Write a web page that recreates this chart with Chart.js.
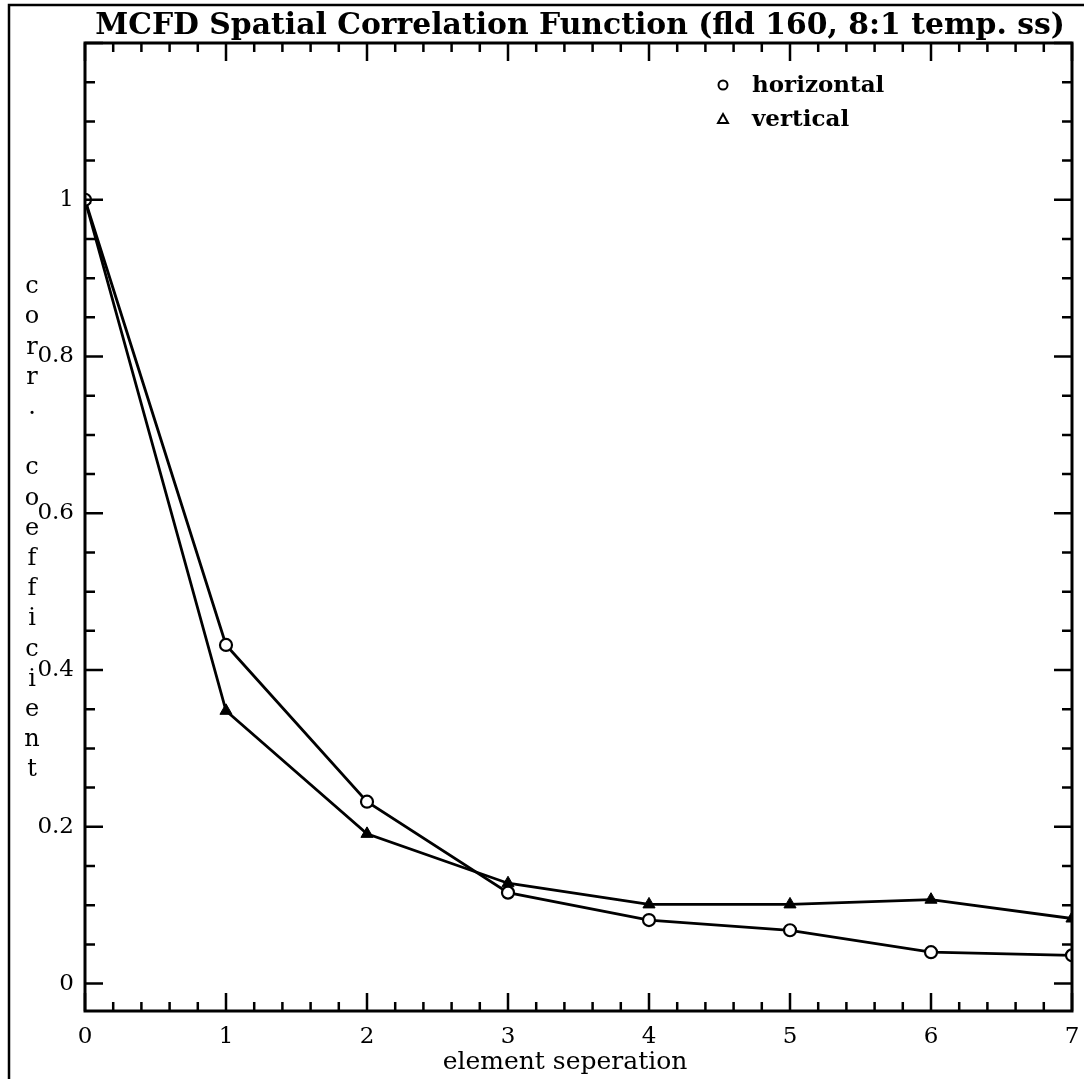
<!DOCTYPE html>
<html>
<head>
<meta charset="utf-8">
<title>MCFD Spatial Correlation Function</title>
<script src="https://cdn.jsdelivr.net/npm/chart.js@4.4.0/dist/chart.umd.min.js"></script>
<style>
  html, body { margin: 0; padding: 0; background: #fff; }
  #chart { display: block; }
</style>
</head>
<body>
<canvas id="chart" width="1084" height="1079"></canvas>
<script>
  // Data
  const separations = [0, 1, 2, 3, 4, 5, 6, 7];
  const horizontalCorr = [1.0, 0.432, 0.232, 0.116, 0.081, 0.068, 0.040, 0.036];
  const verticalCorr = [1.0, 0.348, 0.191, 0.128, 0.101, 0.101, 0.107, 0.083];

  const xTickLabels = ['0', '1', '2', '3', '4', '5', '6', '7'];
  const yTickValues = [0, 0.2, 0.4, 0.6, 0.8, 1];
  const yTickLabels = ['0', '0.2', '0.4', '0.6', '0.8', '1'];
  const seriesNames = ['horizontal', 'vertical'];

  const titleText = 'MCFD Spatial Correlation Function (fld 160, 8:1 temp. ss)';
  const xTitle = 'element seperation';
  const yTitle = 'corr. coefficient';

  const SERIF = '"DejaVu Serif", "Liberation Serif", serif';
  const INK = '#000';

  // Fit the title font to the width it has in the original
  function fitFont(text, weight, width) {
    const c = document.createElement('canvas').getContext('2d');
    c.font = weight + ' 100px ' + SERIF;
    return 100 * width / c.measureText(text).width;
  }
  const titleSize = fitFont(titleText, 'bold', 970);

  /**
   * Frame, inward ticks, title, stacked y title, legend
   */
  const decorations = {
    id: 'decorations',
    afterDraw(chart) {
      const ctx = chart.ctx;
      const area = chart.chartArea;
      const xs = chart.scales.x;
      const ys = chart.scales.y;
      ctx.save();
      ctx.strokeStyle = INK;
      ctx.fillStyle = INK;
      ctx.lineCap = 'butt';

      // page frame (left and top edges of the scanned box)
      ctx.lineWidth = 2.5;
      ctx.beginPath();
      ctx.moveTo(9, 1079);
      ctx.lineTo(9, 5);
      ctx.lineTo(1084, 5);
      ctx.stroke();

      // plot box
      ctx.lineWidth = 3;
      ctx.strokeRect(area.left, area.top, area.right - area.left, area.bottom - area.top);

      // x ticks, minor every 0.2
      ctx.lineWidth = 2.5;
      for (let i = 0; i <= 35; i++) {
        const v = i * 0.2;
        const px = xs.getPixelForValue(v);
        const len = i % 5 === 0 ? 18 : 9;
        ctx.beginPath();
        ctx.moveTo(px, area.bottom);
        ctx.lineTo(px, area.bottom - len);
        ctx.moveTo(px, area.top);
        ctx.lineTo(px, area.top + len);
        ctx.stroke();
      }
      // y ticks, minor every 0.05
      for (let i = 0; i <= 24; i++) {
        const v = i * 0.05;
        const py = ys.getPixelForValue(v);
        const len = i % 4 === 0 ? 18 : 10;
        ctx.beginPath();
        ctx.moveTo(area.left, py);
        ctx.lineTo(area.left + len, py);
        ctx.moveTo(area.right, py);
        ctx.lineTo(area.right - len, py);
        ctx.stroke();
      }

      // title
      ctx.textAlign = 'center';
      ctx.textBaseline = 'middle';
      ctx.font = 'bold ' + titleSize.toFixed(2) + 'px ' + SERIF;
      ctx.fillText(titleText, 580, 26);

      // x axis title
      ctx.font = '25px ' + SERIF;
      ctx.fillText(xTitle, 565, 1062);

      // y axis title, one character per line
      ctx.font = '24px ' + SERIF;
      const chars = yTitle.split('');
      chars.forEach((ch, i) => {
        ctx.fillText(ch, 32, 287 + i * 30.2);
      });

      // legend
      ctx.textAlign = 'left';
      ctx.font = 'bold 23px ' + SERIF;
      ctx.lineWidth = 2;
      ctx.beginPath();
      ctx.arc(723, 85, 4.5, 0, Math.PI * 2);
      ctx.stroke();
      ctx.fillText(seriesNames[0], 752, 86);
      ctx.beginPath();
      ctx.moveTo(723, 114);
      ctx.lineTo(728, 123);
      ctx.lineTo(718, 123);
      ctx.closePath();
      ctx.stroke();
      ctx.fillText(seriesNames[1], 752, 120);

      ctx.restore();
    }
  };

  const chart = new Chart(document.getElementById('chart'), {
    type: 'line',
    data: {
      datasets: [{
        label: seriesNames[0],
        data: separations.map((x, i) => ({ x: x, y: horizontalCorr[i] })),
        borderColor: INK,
        borderWidth: 2.8,
        pointStyle: 'circle',
        pointRadius: 6,
        pointBorderWidth: 2.2,
        pointBackgroundColor: '#fff',
        pointBorderColor: INK,
        tension: 0
      }, {
        label: seriesNames[1],
        data: separations.map((x, i) => ({ x: x, y: verticalCorr[i] })),
        borderColor: INK,
        borderWidth: 2.8,
        pointStyle: 'triangle',
        pointRadius: 7,
        pointBorderWidth: 1,
        pointBackgroundColor: INK,
        pointBorderColor: INK,
        tension: 0
      }]
    },
    options: {
      responsive: false,
      animation: false,
      layout: {
        padding: { top: 43, right: 12, left: 0, bottom: 0 }
      },
      plugins: {
        legend: { display: false },
        tooltip: { enabled: false },
        title: { display: false }
      },
      scales: {
        x: {
          type: 'linear',
          min: 0,
          max: 7,
          grid: { display: false },
          border: { display: false },
          afterBuildTicks: function(scale) {
            scale.ticks = xTickLabels.map(t => ({ value: Number(t) }));
          },
          afterFit: function(scale) {
            scale.height = 68;
          },
          ticks: {
            padding: 4,
            color: INK,
            maxRotation: 0,
            font: { family: SERIF, size: 23 },
            callback: function(value, index) {
              return xTickLabels[index];
            }
          }
        },
        y: {
          type: 'linear',
          min: -0.035,
          max: 1.2,
          grid: { display: false },
          border: { display: false },
          afterBuildTicks: function(scale) {
            scale.ticks = yTickValues.map(v => ({ value: v }));
          },
          afterFit: function(scale) {
            scale.width = 85;
          },
          ticks: {
            padding: 3,
            color: INK,
            font: { family: SERIF, size: 23 },
            callback: function(value, index) {
              return yTickLabels[index];
            }
          }
        }
      }
    },
    plugins: [decorations]
  });
</script>
</body>
</html>
